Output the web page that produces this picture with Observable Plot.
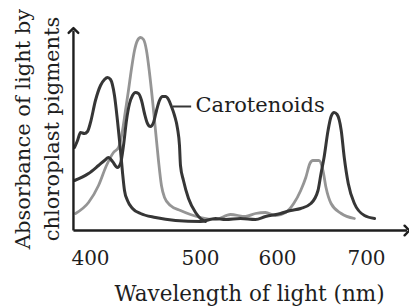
<!DOCTYPE html>
<html>
<head>
<meta charset="utf-8">
<script src="https://cdn.jsdelivr.net/npm/d3@7"></script>
<script src="https://cdn.jsdelivr.net/npm/@observablehq/plot@0.6"></script>
<style>
  html, body { margin: 0; padding: 0; background: #ffffff; }
  #chart { width: 409px; height: 308px; }
</style>
</head>
<body>
<div id="chart"></div>
<script>
// ---- Data (wavelength in nm, relative absorbance) ----
const wavelengthTicks = [400, 500, 600, 700];
const tickLabels = ["400", "500", "600", "700"];

const chlA_nm  = [385.5, 388.2, 390.9, 394.5, 397.3, 400, 404.5, 409.1, 412.7, 415.5, 418.2, 421.8, 424.5, 427.3, 429.1, 430.9, 433.6, 438.2, 445.5, 459.1, 477.3, 500, 519.5, 532.5, 551.9, 571.4, 584.4, 603.4, 614.8, 626.1, 637.5, 645.5, 648.9, 652.3, 656.8, 660.2, 663.6, 667, 671.6, 675, 679.5, 686.4, 697.7, 709.1];
const chlA_abs = [41.5, 45, 49, 48.5, 49.5, 54, 65, 72.5, 75.5, 76.5, 75.5, 67.5, 55, 40, 29, 20, 15, 11, 8.5, 6.5, 5, 4.5, 6, 5.5, 6, 5.5, 7, 8.5, 10, 11, 13.5, 20, 28.5, 36.5, 50, 57, 59, 58, 50, 36.5, 23.5, 13.5, 7.5, 6];

const chlB_nm  = [386.4, 398.2, 407.3, 414.5, 420.9, 425.5, 429.1, 431.8, 434.5, 437.3, 440, 442.7, 445.5, 448.2, 450.9, 453.6, 456.4, 459.1, 461.8, 464.5, 467.3, 472.7, 481.8, 490.9, 500, 519.5, 539, 558.4, 571.4, 584.4, 597.4, 609.1, 618.2, 626.1, 631.8, 636.4, 639.8, 646.6, 651.1, 654.5, 660.2, 671.6, 686.4];
const chlB_abs = [8.5, 14, 22.5, 32.5, 39, 41.5, 50, 60, 70, 81, 90, 95, 96.5, 95.5, 90, 79, 65, 50, 35, 22.5, 16.5, 12.5, 10, 8, 6.5, 5.5, 8, 7, 8.5, 9, 7.5, 9, 13.5, 20, 26.5, 33.5, 35, 35, 30, 21.5, 13.5, 8.5, 6];

const caro_nm  = [385.5, 398.2, 407.3, 412.7, 416.4, 420, 424.5, 427.3, 430, 432.7, 435.5, 438.2, 440.9, 443.6, 446.4, 449.1, 451.8, 454.5, 457.3, 460, 462.7, 465.5, 468.2, 470.9, 473.6, 476.4, 479.1, 480.9, 481.8, 484.5, 489.1, 495.5, 500, 506.5];
const caro_abs = [25, 28.5, 32.5, 35, 36.5, 34.5, 31.5, 33.5, 42.5, 55, 63.5, 67.5, 69, 68.5, 65, 58.5, 53.5, 52, 54, 60, 65, 67, 67, 65.5, 62, 57.5, 51, 42.5, 32.5, 25, 16, 9, 6, 4.5];

const caroLabel = "Carotenoids";
const caroLeader = {x1: 475, x2: 491.5, y: 62};
const caroLabelPos = {x: 495.5, y: 62.5};

const xTitle = "Wavelength of light (nm)";
const yTitle = "Absorbance of light by\nchloroplast pigments";

const axisExtent = {xMin: 384.5, xMax: 745.5, yMax: 100};

// ---- Build tables ----
const toRows = (xs, ys) => xs.map((x, i) => ({nm: x, abs: ys[i]}));
const chlA = toRows(chlA_nm, chlA_abs);
const chlB = toRows(chlB_nm, chlB_abs);
const caro = toRows(caro_nm, caro_abs);

const axes = [
  {x1: axisExtent.xMin, y1: 0, x2: axisExtent.xMax, y2: 0},
  {x1: axisExtent.xMin, y1: 0, x2: axisExtent.xMin, y2: axisExtent.yMax}
];

const FONT = "DejaVu Serif";
const dark = "#363636";
const gray = "#959595";

const chart = Plot.plot({
  width: 409,
  height: 308,
  marginLeft: 73,
  marginRight: 0,
  marginTop: 27,
  marginBottom: 78,
  style: {background: "#ffffff", fontFamily: FONT, fontSize: "20px", color: "#1e1e1e"},
  x: {
    type: "linear",
    domain: wavelengthTicks,
    range: [90, 200, 277, 366],
    ticks: wavelengthTicks,
    tickFormat: (d) => tickLabels[wavelengthTicks.indexOf(d)],
    tickSize: 0,
    tickPadding: 20,
    label: null
  },
  y: {domain: [0, 101.5], axis: null},
  marks: [
    Plot.line(chlB, {x: "nm", y: "abs", stroke: gray, strokeWidth: 2.8, curve: "monotone-x"}),
    Plot.line(caro, {x: "nm", y: "abs", stroke: dark, strokeWidth: 3, curve: "monotone-x"}),
    Plot.line(chlA, {x: "nm", y: "abs", stroke: dark, strokeWidth: 3, curve: "monotone-x"}),
    Plot.link([caroLeader], {x1: "x1", x2: "x2", y1: "y", y2: "y", stroke: dark, strokeWidth: 2}),
    Plot.text([caroLabel], {x: caroLabelPos.x, y: caroLabelPos.y, text: d => d, textAnchor: "start", lineAnchor: "middle", fontSize: 21, fontFamily: FONT, fill: "#1e1e1e"}),
    Plot.link(axes, {x1: "x1", y1: "y1", x2: "x2", y2: "y2", stroke: "#1e1e1e", strokeWidth: 2.4, markerEnd: "arrow"}),
    Plot.text([xTitle], {frameAnchor: "bottom", text: d => d, dx: 8, dy: 64, lineAnchor: "middle", fontSize: 21.5, fontFamily: FONT, fill: "#1e1e1e"}),
    Plot.text([yTitle], {frameAnchor: "left", text: d => d, rotate: -90, dx: -38, dy: 0, textAnchor: "middle", lineAnchor: "middle", lineHeight: 1.38, fontSize: 21, fontFamily: FONT, fill: "#1e1e1e"})
  ]
});
document.getElementById("chart").appendChild(chart);
</script>
</body>
</html>
